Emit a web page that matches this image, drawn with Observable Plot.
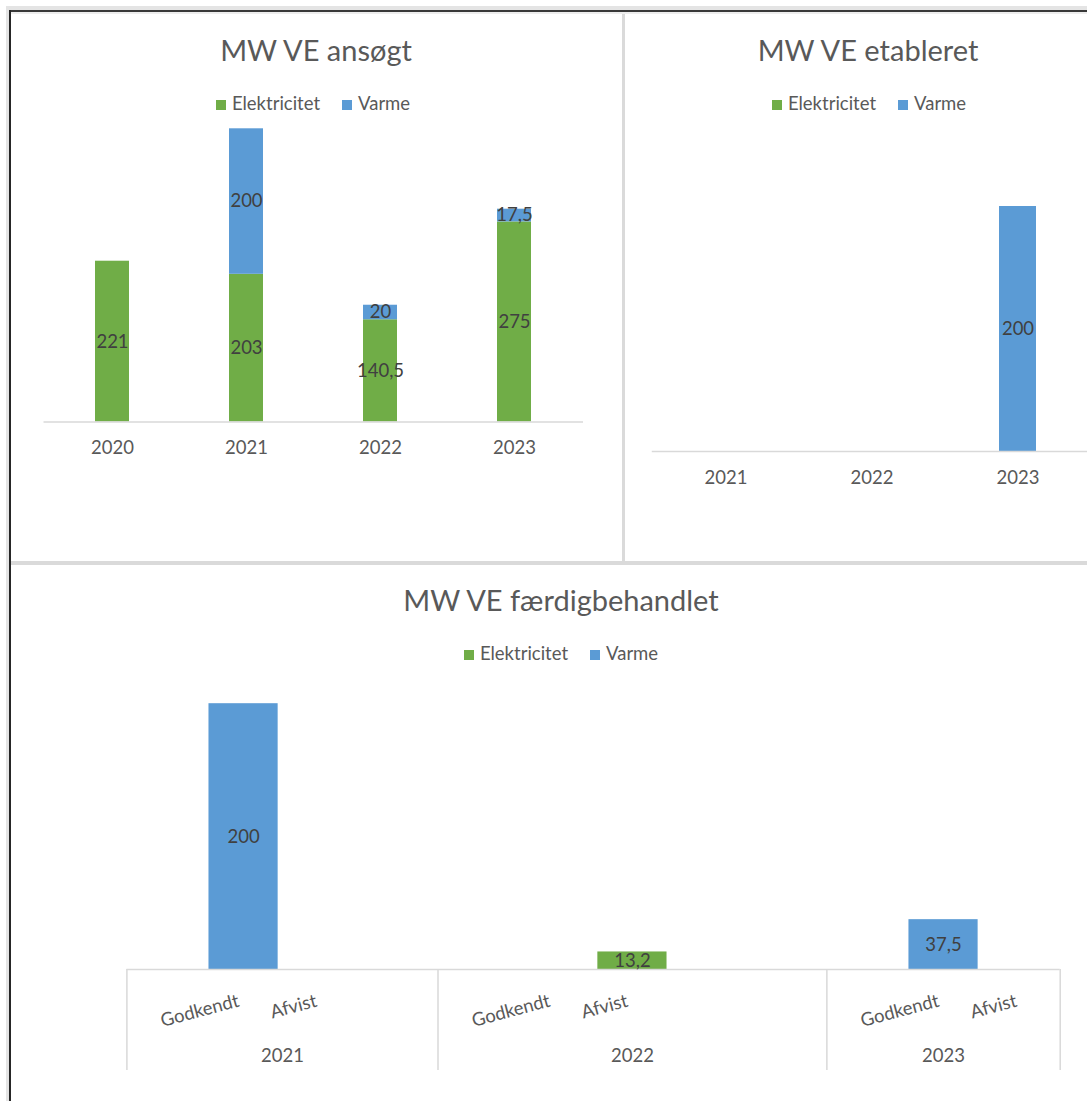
<!DOCTYPE html>
<html><head><meta charset="utf-8">
<script src="https://cdn.jsdelivr.net/npm/d3@7"></script>
<script src="https://cdn.jsdelivr.net/npm/@observablehq/plot@0.6"></script>
<style>
html,body{margin:0;padding:0;background:#fff;}
#page{position:relative;width:1087px;height:1101px;overflow:hidden;background:#fff;font-family:Lato,"Open Sans",sans-serif;}
.deco{position:absolute;}
.title{position:absolute;text-align:center;color:#595959;font-size:29px;line-height:29px;white-space:nowrap;}
.legend{position:absolute;text-align:center;color:#595959;font-size:18.5px;line-height:18.5px;white-space:nowrap;}
.sw{display:inline-block;width:10px;height:10px;margin-right:6px;}
.item{display:inline-block;margin:0 11px;}
.chart{position:absolute;}
.chart svg{max-width:none !important;}
</style></head><body><div id="page"></div>
<script>
// ---- data ----
const seriesNames = ["Elektricitet", "Varme"];
const seriesColors = ["#70AD47", "#5B9BD5"];

// MW VE ansøgt
const ansYears = ["2020", "2021", "2022", "2023"];
const ansElektricitet = [221, 203, 140.5, 275];
const ansVarme = [null, 200, 20, 17.5];

// MW VE etableret
const etabYears = ["2021", "2022", "2023"];
const etabElektricitet = [null, null, null];
const etabVarme = [null, null, 200];

// MW VE færdigbehandlet (two-level category axis: slots grouped by year)
const ferdSlotYear = ["2021","2021","2021","2021","2022","2022","2022","2022","2022","2023","2023","2023"];
const ferdSlotLabel = ["","Godkendt","Afvist","","","Godkendt","Afvist","","","","Godkendt","Afvist"];
const ferdElektricitet = [null,null,null,null,null,null,13.2,null,null,null,null,null];
const ferdVarme = [null,200,null,null,null,null,null,null,null,null,37.5,null];
const ferdYears = ["2021", "2022", "2023"];

// ---- helpers ----
const fmt = v => String(v).replace(".", ",");
const page = document.getElementById("page");
function deco(l, t, w, h, c) {
  const d = document.createElement("div");
  d.className = "deco";
  Object.assign(d.style, {left: l + "px", top: t + "px", width: w + "px", height: h + "px", background: c});
  page.appendChild(d);
}
function title(text, left, width, top) {
  const d = document.createElement("div");
  d.className = "title";
  Object.assign(d.style, {left: left + "px", width: width + "px", top: top + "px"});
  d.textContent = text;
  page.appendChild(d);
}
function legend(cx, top) {
  const d = document.createElement("div");
  d.className = "legend";
  Object.assign(d.style, {left: (cx - 300) + "px", width: "600px", top: top + "px"});
  seriesNames.forEach((n, i) => {
    const it = document.createElement("span");
    it.className = "item";
    const sw = document.createElement("span");
    sw.className = "sw";
    sw.style.background = seriesColors[i];
    it.appendChild(sw);
    it.appendChild(document.createTextNode(n));
    d.appendChild(it);
  });
  page.appendChild(d);
}
function rowsOf(cats, elek, varme) {
  const rows = [];
  cats.forEach((c, i) => { if (elek[i] != null) rows.push({cat: c, serie: "Elektricitet", value: elek[i]}); });
  cats.forEach((c, i) => { if (varme[i] != null) rows.push({cat: c, serie: "Varme", value: varme[i]}); });
  return rows;
}
function place(svg, left, top, width, height) {
  const w = document.createElement("div");
  w.className = "chart";
  w.style.left = left + "px";
  w.style.top = top + "px";
  w.style.width = width + "px";
  w.style.height = height + "px";
  svg.style.maxWidth = "none";
  svg.style.width = width + "px";
  svg.style.height = height + "px";
  w.appendChild(svg);
  page.appendChild(w);
}
const baseStyle = {fontFamily: "Lato, 'Open Sans', sans-serif", fontSize: "18.5px", color: "#595959", background: "transparent", overflow: "visible"};

function stackedChart({cats, elek, varme, width, height, marginLeft, marginRight, marginTop, marginBottom, yMax, pad}) {
  const rows = rowsOf(cats, elek, varme);
  return Plot.plot({
    width, height, marginLeft, marginRight, marginTop, marginBottom,
    style: baseStyle,
    x: {domain: cats, paddingInner: pad, paddingOuter: pad / 2},
    y: {domain: [0, yMax], axis: null},
    color: {domain: seriesNames, range: seriesColors},
    marks: [
      Plot.barY(rows, {x: "cat", y: "value", fill: "serie", z: "serie"}),
      Plot.ruleY([0], {stroke: "#d9d9d9", strokeWidth: 1.5}),
      Plot.axisX({tickSize: 0, tickPadding: 19, fontSize: 18.5, fill: "#595959", label: null}),
      Plot.text(rows, Plot.stackY({x: "cat", y: "value", z: "serie", text: d => fmt(d.value), fill: "#404040", fontSize: 18.5}))
    ]
  });
}

// ---- frame decorations ----
deco(6, 6, 1081, 4, "#e4e4e4");
deco(6, 6, 3.5, 1095, "#e4e4e4");
deco(10.5, 11.5, 1077, 2.5, "#ededed");
deco(9, 10, 1078, 1.5, "#383838");
deco(9, 10, 1.5, 1091, "#262626");
deco(622, 14, 3, 548, "#dadada");
deco(10.5, 561, 1077, 3.5, "#dadada");

// ---- chart 1: MW VE ansøgt ----
title("MW VE ansøgt", 10, 612, 35.3);
legend(313, 93.6);
place(stackedChart({
  cats: ansYears, elek: ansElektricitet, varme: ansVarme,
  width: 612, height: 548, marginLeft: 33.5, marginRight: 39, marginTop: 82.1, marginBottom: 138.5,
  yMax: 450, pad: 0.748
}), 10, 12, 612, 548);

// ---- chart 2: MW VE etableret ----
title("MW VE etableret", 625, 486, 35.3);
legend(869, 93.6);
place(stackedChart({
  cats: etabYears, elek: etabElektricitet, varme: etabVarme,
  width: 486, height: 548, marginLeft: 26.75, marginRight: 19.75, marginTop: 132.75, marginBottom: 109,
  yMax: 250, pad: 0.745
}), 625, 12, 486, 548);

// ---- chart 3: MW VE færdigbehandlet ----
title("MW VE færdigbehandlet", 10, 1102, 585.3);
legend(561, 644.1);
{
  const rows = [];
  ferdSlotYear.forEach((y, i) => { if (ferdElektricitet[i] != null) rows.push({slot: i, serie: "Elektricitet", value: ferdElektricitet[i]}); });
  ferdSlotYear.forEach((y, i) => { if (ferdVarme[i] != null) rows.push({slot: i, serie: "Varme", value: ferdVarme[i]}); });
  const subLabels = ferdSlotLabel.map((t, i) => ({slot: i, text: t})).filter(d => d.text);
  const groups = ferdYears.map(y => {
    const idx = ferdSlotYear.map((v, i) => v === y ? i : -1).filter(i => i >= 0);
    return {year: y, start: d3.min(idx), end: d3.max(idx) + 1};
  });
  const bounds = [groups[0].start, ...groups.map(g => g.end)];
  const yMax = 200, plotH = 265.8;
  const sepDepth = 101 * yMax / plotH;
  const svg = Plot.plot({
    width: 1102, height: 536, marginLeft: 116.4, marginRight: 52.3, marginTop: 138.2, marginBottom: 132,
    style: baseStyle,
    x: {domain: [0, ferdSlotYear.length], axis: null},
    y: {domain: [0, yMax], axis: null},
    color: {domain: seriesNames, range: seriesColors},
    marks: [
      Plot.rectY(rows, {x1: d => d.slot, x2: d => d.slot + 1, y: "value", fill: "serie", z: "serie", insetLeft: 4.3, insetRight: 4.3}),
      Plot.ruleY([0], {stroke: "#d9d9d9", strokeWidth: 1.5}),
      Plot.ruleX(bounds, {x: d => d, y1: 0, y2: -sepDepth, stroke: "#d9d9d9", strokeWidth: 1.5}),
      Plot.text(rows, Plot.stackY({x: d => d.slot + 0.5, y: "value", z: "serie", text: d => fmt(d.value), fill: "#404040", fontSize: 18.5})),
      Plot.text(subLabels, {x: d => d.slot + 0.5, frameAnchor: "bottom", text: "text", rotate: -15, textAnchor: "end", lineAnchor: "middle", dx: -5, dy: 31, fill: "#595959", fontSize: 18.5}),
      Plot.text(groups, {x: d => (d.start + d.end) / 2, frameAnchor: "bottom", text: "year", lineAnchor: "middle", dy: 87, fill: "#595959", fontSize: 18.5})
    ]
  });
  place(svg, 10, 565, 1102, 536);
}
</script></body></html>
